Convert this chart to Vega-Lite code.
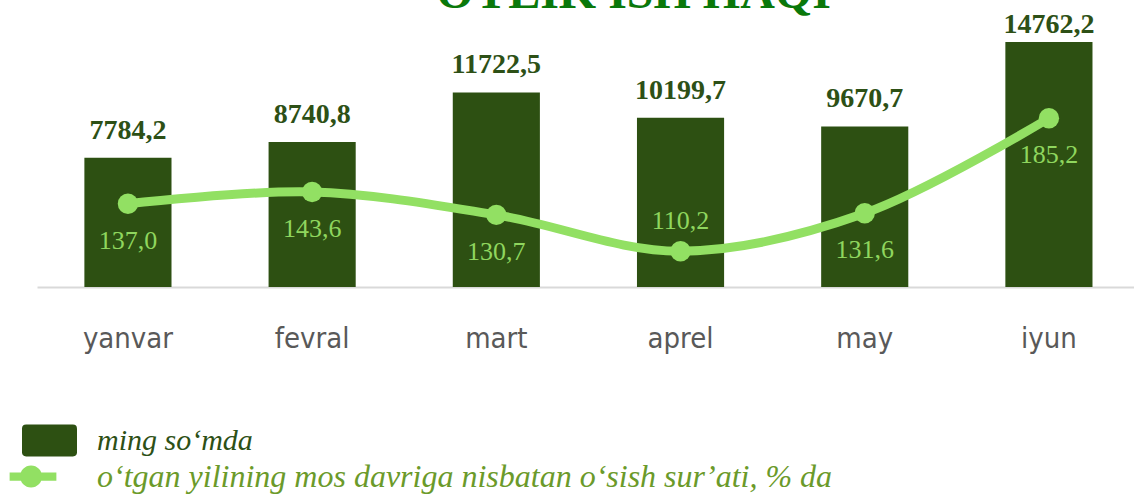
{
  "$schema": "https://vega.github.io/schema/vega-lite/v6.json",
  "autosize": "none",
  "width": 1097,
  "height": 257,
  "padding": {"left": 37, "top": 30, "right": 0, "bottom": 207},
  "background": "white",
  "title": {
    "text": "OYLIK ISH HAQI",
    "font": "Liberation Serif",
    "fontSize": 48,
    "fontWeight": "bold",
    "color": "#0a780a",
    "anchor": "middle",
    "frame": "group",
    "baseline": "alphabetic",
    "dx": 48,
    "offset": -45
  },
  "data": {
    "values": [
      {"m": "yanvar", "v": 7784.2, "p": 137.0, "vl": "7784,2", "pl": "137,0"},
      {"m": "fevral", "v": 8740.8, "p": 143.6, "vl": "8740,8", "pl": "143,6"},
      {"m": "mart", "v": 11722.5, "p": 130.7, "vl": "11722,5", "pl": "130,7"},
      {"m": "aprel", "v": 10199.7, "p": 110.2, "vl": "10199,7", "pl": "110,2"},
      {"m": "may", "v": 9670.7, "p": 131.6, "vl": "9670,7", "pl": "131,6"},
      {"m": "iyun", "v": 14762.2, "p": 185.2, "vl": "14762,2", "pl": "185,2"}
    ]
  },
  "encoding": {
    "x": {
      "field": "m",
      "type": "nominal",
      "sort": null,
      "scale": {"paddingInner": 0.527, "paddingOuter": 0.2413, "align": 0.533},
      "axis": {
        "title": null,
        "ticks": false,
        "grid": false,
        "labelAngle": 0,
        "labelFont": "DejaVu Sans Condensed, DejaVu Sans",
        "labelFontSize": 29,
        "labelColor": "#595959",
        "labelBaseline": "alphabetic",
        "labelPadding": 60,
        "domainColor": "#d9d9d9",
        "domainWidth": 2
      }
    }
  },
  "layer": [
    {
      "layer": [
        {
          "mark": {"type": "bar"},
          "encoding": {
            "y": {"field": "v", "type": "quantitative", "scale": {"domain": [0, 15480]}, "axis": null},
            "color": {
              "datum": "ming soʻmda",
              "scale": {"range": ["#2d5012"]},
              "legend": {
                "orient": "none",
                "legendX": -15,
                "legendY": 383,
                "title": null,
                "symbolType": "M-0.85,-0.58H0.85Q1,-0.58 1,-0.43V0.43Q1,0.58 0.85,0.58H-0.85Q-1,0.58 -1,0.43V-0.43Q-1,-0.58 -0.85,-0.58Z",
                "symbolSize": 3025,
                "symbolStrokeWidth": 0,
                "labelFont": "Liberation Serif",
                "labelFontStyle": "italic",
                "labelFontSize": 30,
                "labelColor": "#2d5016",
                "labelOffset": 20,
                "labelLimit": 1000,
                "padding": 0
              }
            }
          }
        },
        {
          "transform": [{"filter": "datum.v < 14000"}],
          "mark": {"type": "text", "font": "Liberation Serif", "fontWeight": "bold", "fontSize": 28, "color": "#2d5016", "baseline": "alphabetic", "dy": -19},
          "encoding": {
            "y": {"field": "v", "type": "quantitative", "scale": {"domain": [0, 15480]}, "axis": null},
            "text": {"field": "vl"}
          }
        },
        {
          "transform": [{"filter": "datum.v >= 14000"}],
          "mark": {"type": "text", "font": "Liberation Serif", "fontWeight": "bold", "fontSize": 28, "color": "#2d5016", "baseline": "alphabetic", "dy": -9},
          "encoding": {
            "y": {"field": "v", "type": "quantitative", "scale": {"domain": [0, 15480]}, "axis": null},
            "text": {"field": "vl"}
          }
        }
      ]
    },
    {
      "layer": [
        {
          "mark": {"type": "line", "interpolate": "catmull-rom", "strokeWidth": 9},
          "encoding": {
            "y": {"field": "p", "type": "quantitative", "scale": {"domain": [90, 235]}, "axis": null},
            "stroke": {
              "datum": "oʻtgan yilining mos davriga nisbatan oʻsish surʼati, % da",
              "scale": {"range": ["#92e063"]},
              "legend": {
                "orient": "none",
                "legendX": -15,
                "legendY": 419,
                "title": null,
                "symbolType": "M-1.45,-0.15H0.25V0.15H-1.45Z M-0.27,0A0.4,0.4 0 1 1 -1.07,0A0.4,0.4 0 1 1 -0.27,0Z",
                "symbolSize": 3025,
                "symbolFillColor": "#92e063",
                "symbolStrokeWidth": 0,
                "labelFont": "Liberation Serif",
                "labelFontStyle": "italic",
                "labelFontSize": 32,
                "labelColor": "#6b9a2a",
                "labelOffset": 20,
                "labelLimit": 1000,
                "padding": 0
              }
            }
          }
        },
        {
          "mark": {"type": "point", "shape": "circle", "filled": true, "size": 415, "color": "#92e063", "opacity": 1},
          "encoding": {
            "y": {"field": "p", "type": "quantitative", "scale": {"domain": [90, 235]}, "axis": null}
          }
        },
        {
          "transform": [{"filter": "datum.p > 120"}],
          "mark": {"type": "text", "font": "Liberation Serif", "fontSize": 26, "color": "#8fd65e", "baseline": "alphabetic", "dy": 45},
          "encoding": {
            "y": {"field": "p", "type": "quantitative", "scale": {"domain": [90, 235]}, "axis": null},
            "text": {"field": "pl"}
          }
        },
        {
          "transform": [{"filter": "datum.p <= 120"}],
          "mark": {"type": "text", "font": "Liberation Serif", "fontSize": 26, "color": "#8fd65e", "baseline": "alphabetic", "dy": -22},
          "encoding": {
            "y": {"field": "p", "type": "quantitative", "scale": {"domain": [90, 235]}, "axis": null},
            "text": {"field": "pl"}
          }
        }
      ]
    }
  ],
  "resolve": {"scale": {"y": "independent"}},
  "config": {"view": {"stroke": null}}
}
